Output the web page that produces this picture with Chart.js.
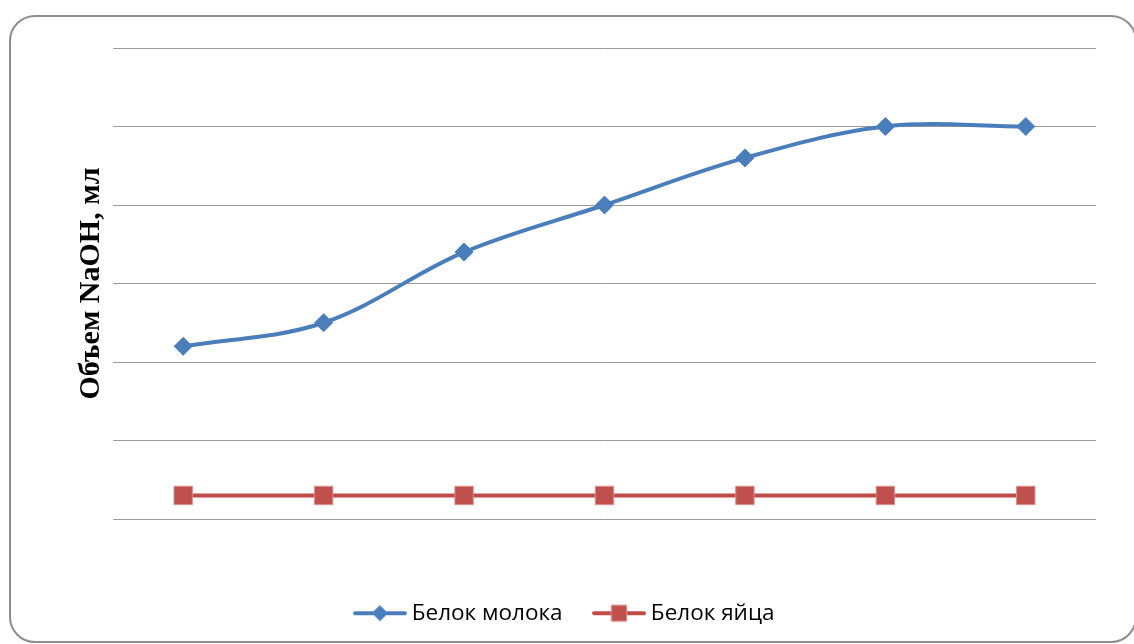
<!DOCTYPE html>
<html lang="ru">
<head>
<meta charset="utf-8">
<title>Объем NaOH</title>
<script src="https://cdn.jsdelivr.net/npm/chart.js@4"></script>
<style>
  html, body { margin: 0; padding: 0; background: #fff; }
  .chart-wrap { position: relative; width: 1134px; height: 644px; overflow: hidden; }
  .chart-frame {
    position: absolute;
    left: 9px;
    top: 15px;
    width: 1128px;
    height: 628px;
    box-sizing: border-box;
    border: 2px solid #8e8e8e;
    border-radius: 26px;
  }
  #naohChart { position: absolute; left: 0; top: 0; }
</style>
</head>
<body>
<div class="chart-wrap">
  <div class="chart-frame"></div>
  <canvas id="naohChart" width="1134" height="644"></canvas>
</div>
<script>
const categories = ['1', '2', '3', '4', '5', '6', '7'];
const milkValues = [2.2, 2.5, 3.4, 4.0, 4.6, 5.0, 5.0];
const eggValues = [0.3, 0.3, 0.3, 0.3, 0.3, 0.3, 0.3];
const seriesNames = ['Белок молока', 'Белок яйца'];
const yTickValues = [0, 1, 2, 3, 4, 5, 6];

const blue = '#4a7ebb';
const red = '#be4b48';

// legend icon: short line with the marker in the middle, like the Excel legend
function makeLegendIcon(color, markerFill, markerBorder, shape) {
  const c = document.createElement('canvas');
  c.width = 54;
  c.height = 20;
  const g = c.getContext('2d');
  g.strokeStyle = color;
  g.lineWidth = 4;
  g.lineCap = 'round';
  g.beginPath();
  g.moveTo(2, 10);
  g.lineTo(52, 10);
  g.stroke();
  g.fillStyle = markerFill;
  g.strokeStyle = markerBorder;
  g.lineWidth = 1;
  g.beginPath();
  if (shape === 'diamond') {
    g.moveTo(27, 2.5);
    g.lineTo(34.5, 10);
    g.lineTo(27, 17.5);
    g.lineTo(19.5, 10);
    g.closePath();
  } else {
    g.rect(19.5, 2, 15, 16);
  }
  g.fill();
  g.stroke();
  return c;
}

const legendIcons = [
  makeLegendIcon(blue, '#4a7ebb', '#4a7ebb', 'diamond'),
  makeLegendIcon(red, '#c0504d', '#d98e8c', 'square')
];

const ctx = document.getElementById('naohChart');

new Chart(ctx, {
  type: 'line',
  data: {
    labels: categories,
    datasets: [
      {
        label: seriesNames[0],
        data: milkValues,
        borderColor: blue,
        backgroundColor: '#4a7ebb',
        borderWidth: 4,
        tension: 0.35,
        fill: false,
        pointStyle: 'rectRot',
        pointRadius: 9,
        pointBorderWidth: 1,
        pointBackgroundColor: '#4a7ebb',
        pointBorderColor: '#4a7ebb'
      },
      {
        label: seriesNames[1],
        data: eggValues,
        borderColor: red,
        backgroundColor: '#c0504d',
        borderWidth: 4,
        tension: 0,
        fill: false,
        pointStyle: 'rect',
        pointRadius: 13,
        pointBorderWidth: 1,
        pointBackgroundColor: '#c0504d',
        pointBorderColor: '#d98e8c'
      }
    ]
  },
  options: {
    responsive: false,
    animation: false,
    layout: {
      padding: { left: 0, right: 0, top: 48, bottom: 9.5 }
    },
    plugins: {
      tooltip: { enabled: false },
      legend: {
        position: 'bottom',
        labels: {
          usePointStyle: true,
          pointStyleWidth: 41,
          padding: 36,
          color: '#000',
          font: { family: '"Open Sans", "Liberation Sans", sans-serif', size: 22.5 },
          generateLabels: function(chart) {
            const items = Chart.defaults.plugins.legend.labels.generateLabels(chart);
            return items.map((item, i) => Object.assign(item, { pointStyle: legendIcons[i] }));
          }
        }
      }
    },
    scales: {
      x: {
        type: 'category',
        offset: true,
        grid: { display: false },
        border: { display: false },
        ticks: { display: false },
        afterFit: function(scale) {
          scale.height = 47;
        }
      },
      y: {
        min: 0,
        max: 6,
        afterBuildTicks: function(scale) {
          scale.ticks = yTickValues.map(v => ({ value: v }));
        },
        grid: {
          color: '#9a9a9a',
          lineWidth: 1,
          drawTicks: false
        },
        border: { display: false },
        ticks: { display: false },
        title: {
          display: true,
          text: 'Объем NaOH, мл',
          color: '#000',
          font: { family: '"Liberation Serif", "Times New Roman", serif', size: 30, weight: 'bold', lineHeight: 1 },
          padding: { top: 76, bottom: 0 }
        },
        afterFit: function(scale) {
          scale.width = 113;
        }
      },
      // empty right-hand axis that only keeps the white margin right of the plot
      yRight: {
        position: 'right',
        min: 0,
        max: 6,
        grid: { display: false },
        border: { display: false },
        ticks: { display: false },
        afterFit: function(scale) {
          scale.width = 38;
        }
      }
    }
  }
});
</script>
</body>
</html>
